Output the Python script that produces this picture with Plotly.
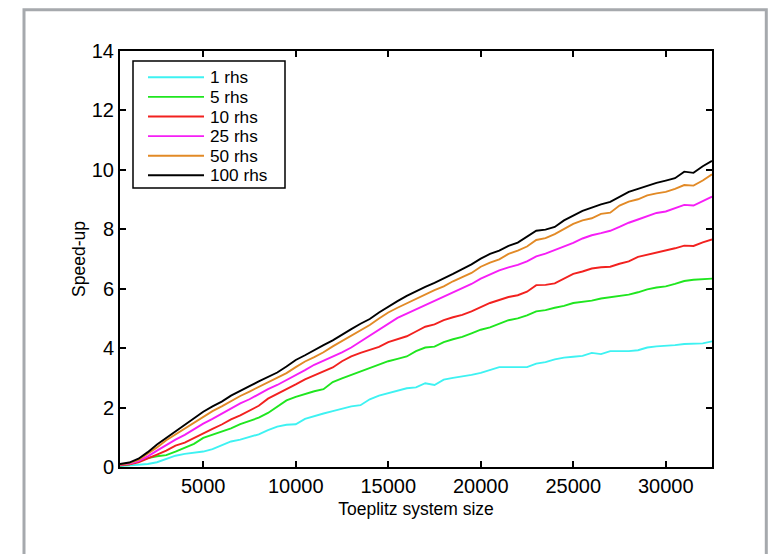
import plotly.graph_objects as go

# Toeplitz system sizes (x axis)
sizes = [500, 1000, 1500, 2000, 2500, 3000, 3500, 4000, 4500, 5000,
         5500, 6000, 6500, 7000, 7500, 8000, 8500, 9000, 9500, 10000,
         10500, 11000, 11500, 12000, 12500, 13000, 13500, 14000, 14500, 15000,
         15500, 16000, 16500, 17000, 17500, 18000, 18500, 19000, 19500, 20000,
         20500, 21000, 21500, 22000, 22500, 23000, 23500, 24000, 24500, 25000,
         25500, 26000, 26500, 27000, 27500, 28000, 28500, 29000, 29500, 30000,
         30500, 31000, 31500, 32000, 32500]

# Speed-up for each number of right-hand sides
speedup_1rhs = [0.03, 0.05, 0.08, 0.10, 0.16, 0.28, 0.38, 0.44, 0.48, 0.52,
                0.60, 0.74, 0.86, 0.92, 1.00, 1.10, 1.24, 1.36, 1.42, 1.44,
                1.62, 1.72, 1.80, 1.88, 1.96, 2.04, 2.08, 2.28, 2.40, 2.48,
                2.55, 2.65, 2.68, 2.82, 2.76, 2.94, 3.00, 3.04, 3.10, 3.17,
                3.26, 3.36, 3.36, 3.36, 3.36, 3.48, 3.53, 3.62, 3.68, 3.71,
                3.74, 3.84, 3.80, 3.90, 3.90, 3.90, 3.93, 4.02, 4.06, 4.07,
                4.10, 4.14, 4.16, 4.16, 4.23]

speedup_5rhs = [0.05, 0.08, 0.20, 0.30, 0.36, 0.40, 0.52, 0.66, 0.78, 0.98,
                1.08, 1.18, 1.30, 1.44, 1.56, 1.66, 1.82, 2.04, 2.24, 2.36,
                2.46, 2.55, 2.62, 2.86, 2.98, 3.10, 3.21, 3.34, 3.44, 3.56,
                3.64, 3.72, 3.90, 4.02, 4.05, 4.20, 4.30, 4.38, 4.50, 4.62,
                4.70, 4.82, 4.94, 5.00, 5.10, 5.24, 5.28, 5.36, 5.42, 5.52,
                5.56, 5.60, 5.67, 5.72, 5.75, 5.80, 5.88, 5.98, 6.04, 6.08,
                6.16, 6.26, 6.30, 6.32, 6.34]

speedup_10rhs = [0.06, 0.09, 0.16, 0.28, 0.42, 0.55, 0.72, 0.82, 0.98, 1.14,
                 1.28, 1.43, 1.60, 1.74, 1.90, 2.06, 2.30, 2.46, 2.60, 2.78,
                 2.95, 3.08, 3.20, 3.35, 3.56, 3.72, 3.84, 3.94, 4.04, 4.20,
                 4.31, 4.40, 4.56, 4.72, 4.80, 4.94, 5.04, 5.12, 5.24, 5.38,
                 5.52, 5.62, 5.72, 5.78, 5.90, 6.12, 6.13, 6.18, 6.34, 6.50,
                 6.58, 6.68, 6.72, 6.74, 6.84, 6.92, 7.07, 7.14, 7.20, 7.28,
                 7.36, 7.45, 7.44, 7.56, 7.66]

speedup_25rhs = [0.07, 0.11, 0.20, 0.36, 0.55, 0.74, 0.92, 1.08, 1.28, 1.46,
                 1.62, 1.80, 1.98, 2.14, 2.28, 2.46, 2.62, 2.76, 2.92, 3.10,
                 3.26, 3.44, 3.58, 3.70, 3.86, 4.02, 4.22, 4.42, 4.62, 4.82,
                 5.02, 5.16, 5.30, 5.44, 5.58, 5.72, 5.86, 6.00, 6.16, 6.34,
                 6.49, 6.62, 6.72, 6.80, 6.92, 7.09, 7.18, 7.30, 7.42, 7.54,
                 7.69, 7.80, 7.87, 7.95, 8.08, 8.22, 8.33, 8.44, 8.55, 8.60,
                 8.70, 8.82, 8.80, 8.96, 9.10]

speedup_50rhs = [0.08, 0.13, 0.24, 0.44, 0.66, 0.90, 1.10, 1.30, 1.50, 1.70,
                 1.88, 2.04, 2.22, 2.39, 2.54, 2.70, 2.86, 3.00, 3.16, 3.36,
                 3.55, 3.70, 3.86, 4.06, 4.24, 4.42, 4.62, 4.78, 5.00, 5.20,
                 5.36, 5.51, 5.66, 5.82, 5.95, 6.08, 6.25, 6.39, 6.53, 6.74,
                 6.88, 6.99, 7.17, 7.28, 7.42, 7.64, 7.70, 7.84, 8.02, 8.18,
                 8.30, 8.37, 8.52, 8.56, 8.80, 8.93, 9.01, 9.14, 9.21, 9.26,
                 9.36, 9.49, 9.47, 9.64, 9.85]

speedup_100rhs = [0.10, 0.15, 0.28, 0.50, 0.76, 0.98, 1.20, 1.42, 1.64, 1.86,
                  2.04, 2.20, 2.40, 2.57, 2.72, 2.88, 3.04, 3.18, 3.38, 3.60,
                  3.76, 3.94, 4.10, 4.26, 4.46, 4.64, 4.82, 4.98, 5.20, 5.40,
                  5.58, 5.76, 5.92, 6.06, 6.20, 6.34, 6.50, 6.66, 6.82, 7.01,
                  7.17, 7.28, 7.44, 7.55, 7.74, 7.95, 7.99, 8.08, 8.30, 8.47,
                  8.62, 8.73, 8.84, 8.92, 9.10, 9.26, 9.36, 9.47, 9.56, 9.64,
                  9.72, 9.94, 9.90, 10.12, 10.30]

series_names = ["1 rhs", "5 rhs", "10 rhs", "25 rhs", "50 rhs", "100 rhs"]
series_values = [speedup_1rhs, speedup_5rhs, speedup_10rhs,
                 speedup_25rhs, speedup_50rhs, speedup_100rhs]
series_colors = ["#3ef2f2", "#1fe61f", "#f2211f", "#f61ef6", "#e28a26", "#000000"]

x_ticks = [5000, 10000, 15000, 20000, 25000, 30000]
x_tick_labels = ["5000", "10000", "15000", "20000", "25000", "30000"]
y_ticks = [0, 2, 4, 6, 8, 10, 12, 14]
y_tick_labels = ["0", "2", "4", "6", "8", "10", "12", "14"]

FONT = "Liberation Sans, Arial, Helvetica, sans-serif"

fig = go.Figure()
for name, vals, color in zip(series_names, series_values, series_colors):
    fig.add_trace(go.Scatter(
        x=sizes, y=vals, mode="lines", name=name,
        line=dict(color=color, width=1.9),
        showlegend=False,
    ))

axis_common = dict(
    showline=True, linecolor="black", linewidth=2, mirror="ticks",
    ticks="inside", ticklen=6, tickwidth=1.5, tickcolor="black",
    showgrid=False, zeroline=False,
    tickfont=dict(family=FONT, size=20, color="black"),
)

fig.update_layout(
    width=783, height=554,
    margin=dict(l=120, r=71, t=51, b=87),
    paper_bgcolor="white", plot_bgcolor="white",
    font=dict(family=FONT, color="black"),
    xaxis=dict(range=[500, 32500], tickvals=x_ticks, ticktext=x_tick_labels,
               title=dict(text="Toeplitz system size", font=dict(size=17.5), standoff=7),
               **axis_common),
    yaxis=dict(range=[0, 14], tickvals=y_ticks, ticktext=y_tick_labels,
               title=dict(text="Speed-up", font=dict(size=17.5), standoff=2),
               **axis_common),
)

# Outer grey frame around the figure
plot_l, plot_r, plot_t, plot_b = 120, 712, 51, 467
pw, ph = plot_r - plot_l, plot_b - plot_t


def px_x(v):
    return (v - plot_l) / pw


def px_y(v):
    return (plot_b - v) / ph


fig.add_shape(type="rect", xref="paper", yref="paper",
              x0=px_x(24), x1=px_x(766.3), y0=px_y(620), y1=px_y(9.8),
              line=dict(color="#a6a9ad", width=3), fillcolor="rgba(0,0,0,0)",
              layer="below")

# Legend box with line samples and labels
fig.add_shape(type="rect", xref="paper", yref="paper",
              x0=px_x(133), x1=px_x(285), y0=px_y(188), y1=px_y(61),
              line=dict(color="black", width=1.5), fillcolor="white")
for i, (name, color) in enumerate(zip(series_names, series_colors)):
    yy = px_y(77.3 + 19.6 * i)
    fig.add_shape(type="line", xref="paper", yref="paper",
                  x0=px_x(148), x1=px_x(204), y0=yy, y1=yy,
                  line=dict(color=color, width=1.9))
    fig.add_annotation(xref="paper", yref="paper", x=px_x(209), y=yy,
                       text=name, showarrow=False, xanchor="left", yanchor="middle",
                       borderpad=0,
                       font=dict(family=FONT, size=17.2, color="black"))

fig.write_html("out.html")
